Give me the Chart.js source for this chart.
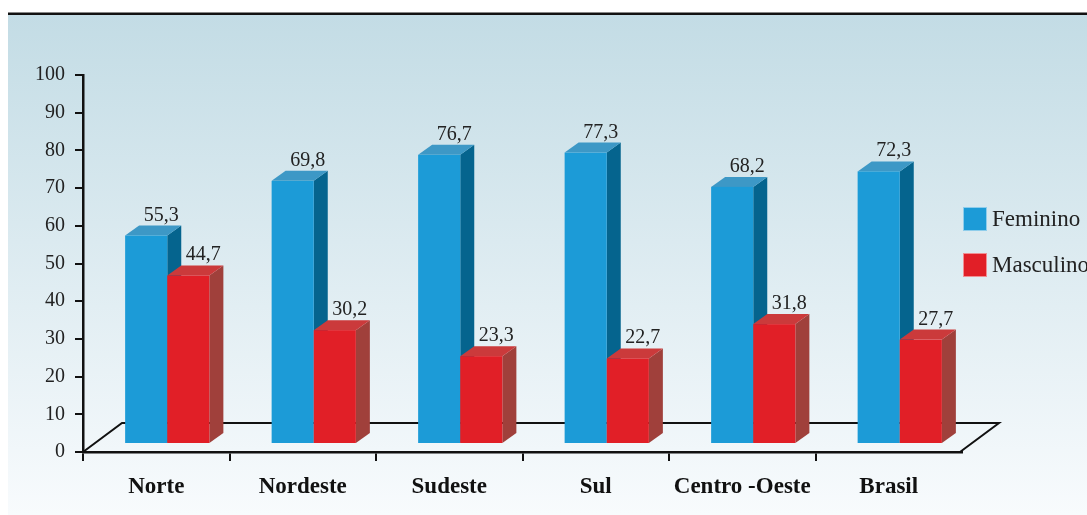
<!DOCTYPE html>
<html>
<head>
<meta charset="utf-8">
<script src="https://cdn.jsdelivr.net/npm/chart.js@4.4.1/dist/chart.umd.min.js"></script>
<style>
  html, body { margin: 0; padding: 0; background: #fff; }
  #wrap { width: 1087px; height: 515px; }
</style>
</head>
<body>
<div id="wrap"><canvas id="chart" width="1087" height="515"></canvas></div>
<script>
// data
const regioes = ["Norte", "Nordeste", "Sudeste", "Sul", "Centro -Oeste", "Brasil"];
const feminino = [55.3, 69.8, 76.7, 77.3, 68.2, 72.3];
const masculino = [44.7, 30.2, 23.3, 22.7, 31.8, 27.7];
const yMin = 0;
const yMax = 100;
const yStep = 10;

// 3d look: floor depth, bars sit a bit behind the front edge
const FLOOR = { dx: 39, dy: -29 };
const BAR_SHIFT = { dx: 11, dy: -8 };
const BAR_DEPTH = { dx: 14, dy: -10 };

const SERIF = "'Liberation Serif', 'DejaVu Serif', serif";
const fmt = v => v.toFixed(1).replace(".", ",");

const background = {
    id: "background",
    beforeDraw(chart) {
        const ctx = chart.ctx;
        const w = chart.width, h = chart.height;
        ctx.save();
        ctx.fillStyle = "#fff";
        ctx.fillRect(0, 0, w, h);
        const g = ctx.createLinearGradient(0, 15, 0, h);
        g.addColorStop(0, "#c3dce5");
        g.addColorStop(1, "#f8fbfd");
        ctx.fillStyle = g;
        ctx.fillRect(8, 15, w - 8, h - 15);
        ctx.fillStyle = "#111";
        ctx.fillRect(8, 12.5, w - 8, 2.5);
        ctx.restore();
    }
};

// bars are left transparent by chart.js and drawn here as boxes,
// first series first so the second one covers its side face
const bars3d = {
    id: "bars3d",
    afterDatasetsDraw(chart) {
        const ctx = chart.ctx;
        const { left, right, bottom } = chart.chartArea;

        ctx.save();
        ctx.strokeStyle = "#111";
        ctx.lineWidth = 2;
        ctx.beginPath();
        ctx.moveTo(left, bottom);
        ctx.lineTo(left + FLOOR.dx, bottom + FLOOR.dy);
        ctx.lineTo(right + FLOOR.dx - 2, bottom + FLOOR.dy);
        ctx.lineTo(right - 2, bottom);
        ctx.stroke();

        ctx.translate(BAR_SHIFT.dx, BAR_SHIFT.dy);
        const metas = chart.data.datasets.map((ds, i) => chart.getDatasetMeta(i));

        regioes.forEach((_, j) => {
            chart.data.datasets.forEach((ds, i) => {
                const bar = metas[i].data[j];
                const l = bar.x - bar.width / 2;
                const r = bar.x + bar.width / 2;
                const t = bar.y;
                const b = bar.base;

                ctx.fillStyle = ds.sideColor;
                ctx.beginPath();
                ctx.moveTo(r, t);
                ctx.lineTo(r + BAR_DEPTH.dx, t + BAR_DEPTH.dy);
                ctx.lineTo(r + BAR_DEPTH.dx, b + BAR_DEPTH.dy);
                ctx.lineTo(r, b);
                ctx.closePath();
                ctx.fill();

                ctx.fillStyle = ds.topColor;
                ctx.beginPath();
                ctx.moveTo(l, t);
                ctx.lineTo(l + BAR_DEPTH.dx, t + BAR_DEPTH.dy);
                ctx.lineTo(r + BAR_DEPTH.dx, t + BAR_DEPTH.dy);
                ctx.lineTo(r, t);
                ctx.closePath();
                ctx.fill();

                ctx.fillStyle = ds.frontColor;
                ctx.fillRect(l, t, r - l, b - t);
            });
        });

        // value labels
        ctx.font = "20px " + SERIF;
        ctx.fillStyle = "#222";
        ctx.textAlign = "center";
        ctx.textBaseline = "alphabetic";
        chart.data.datasets.forEach((ds, i) => {
            metas[i].data.forEach((bar, j) => {
                ctx.fillText(fmt(ds.data[j]), bar.x + 15, bar.y - 15);
            });
        });
        ctx.restore();
    }
};

const legendRight = {
    id: "legendRight",
    afterDraw(chart) {
        const ctx = chart.ctx;
        const x = 963, y0 = 207, gap = 46, size = 24;
        ctx.save();
        ctx.font = "23px " + SERIF;
        ctx.textAlign = "left";
        ctx.textBaseline = "middle";
        chart.data.datasets.forEach((ds, i) => {
            const y = y0 + i * gap;
            ctx.fillStyle = ds.frontColor;
            ctx.fillRect(x, y, size, size);
            ctx.strokeStyle = "rgba(255,255,255,0.5)";
            ctx.lineWidth = 1;
            ctx.strokeRect(x + 0.5, y + 0.5, size - 1, size - 1);
            ctx.fillStyle = "#222";
            ctx.fillText(ds.label, x + 29, y + size / 2 + 1);
        });
        ctx.restore();
    }
};

new Chart(document.getElementById("chart"), {
    type: "bar",
    data: {
        labels: regioes,
        datasets: [
            {
                label: "Feminino",
                data: feminino,
                backgroundColor: "rgba(0,0,0,0)",
                frontColor: "#1c9bd7",
                topColor: "#3d98c6",
                sideColor: "#05648e"
            },
            {
                label: "Masculino",
                data: masculino,
                backgroundColor: "rgba(0,0,0,0)",
                frontColor: "#e11f27",
                topColor: "#cb3a3b",
                sideColor: "#a0403b"
            }
        ]
    },
    options: {
        responsive: false,
        devicePixelRatio: 1,
        animation: false,
        events: [],
        layout: { padding: { top: 75, right: 125, bottom: 0, left: 0 } },
        datasets: {
            bar: { categoryPercentage: 0.575, barPercentage: 1, borderWidth: 0 }
        },
        plugins: {
            legend: { display: false },
            tooltip: { enabled: false }
        },
        scales: {
            x: {
                ticks: {
                    color: "#111",
                    font: { family: SERIF, size: 23, weight: "bold" },
                    padding: 12
                },
                grid: {
                    offset: true,
                    drawOnChartArea: false,
                    tickLength: 9,
                    lineWidth: 2,
                    color: c => c.type === "tick" ? "#111" : "rgba(0,0,0,0)"
                },
                border: { display: true, color: "#111", width: 2.5 },
                afterFit(s) { s.height = 515 - 452; }
            },
            y: {
                min: yMin,
                max: yMax,
                ticks: {
                    stepSize: yStep,
                    color: "#222",
                    font: { family: SERIF, size: 20 },
                    padding: 10
                },
                grid: {
                    drawOnChartArea: false,
                    tickLength: 8,
                    lineWidth: 2,
                    color: "#111"
                },
                border: { display: true, color: "#111", width: 2.5 },
                afterFit(s) { s.width = 83; }
            }
        }
    },
    plugins: [background, bars3d, legendRight]
});
</script>
</body>
</html>
